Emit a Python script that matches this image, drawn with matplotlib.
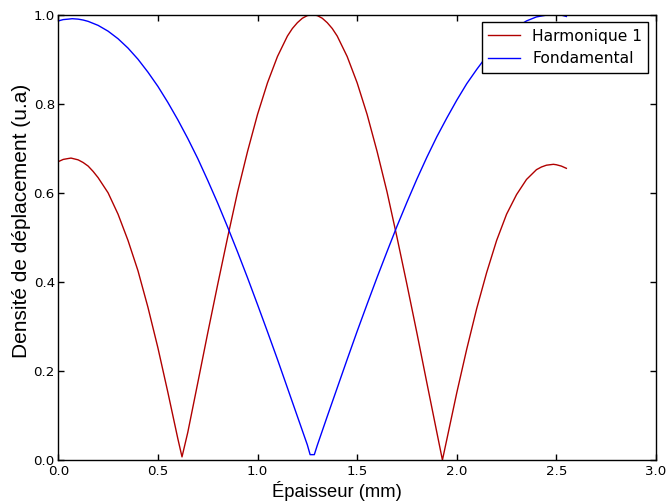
# -*- coding: utf-8 -*-
"""Densité de déplacement : fondamental et harmonique 1 en fonction de l'épaisseur."""

import matplotlib
matplotlib.use("Agg")
import matplotlib.pyplot as plt

# --- données ---
x_harm = [0.00, 0.025, 0.05, 0.064, 0.10, 0.125, 0.15, 0.175, 0.20, 0.25, 0.30,
          0.35, 0.40, 0.45, 0.50, 0.55, 0.60, 0.621, 0.65, 0.70, 0.75, 0.80,
          0.85, 0.90, 0.95, 1.00, 1.05, 1.10, 1.15, 1.175, 1.20, 1.225, 1.25,
          1.275, 1.30, 1.325, 1.35, 1.375, 1.40, 1.45, 1.50, 1.55, 1.60, 1.65,
          1.70, 1.75, 1.80, 1.85, 1.90, 1.928, 1.95, 2.00, 2.05, 2.10, 2.15,
          2.20, 2.25, 2.30, 2.35, 2.40, 2.425, 2.45, 2.485, 2.50, 2.525, 2.55]
y_harm = [0.670, 0.675, 0.677, 0.678, 0.674, 0.668, 0.660, 0.648, 0.634, 0.600,
          0.552, 0.493, 0.425, 0.343, 0.252, 0.152, 0.048, 0.007, 0.062, 0.173,
          0.285, 0.394, 0.500, 0.602, 0.693, 0.776, 0.847, 0.906, 0.952, 0.969,
          0.982, 0.992, 0.998, 1.000, 0.998, 0.992, 0.982, 0.969, 0.952, 0.906,
          0.847, 0.776, 0.693, 0.602, 0.500, 0.394, 0.285, 0.173, 0.062, 0.000,
          0.046, 0.151, 0.249, 0.340, 0.421, 0.493, 0.552, 0.596, 0.630, 0.652,
          0.658, 0.662, 0.664, 0.663, 0.660, 0.655]

x_fond = [0.00, 0.025, 0.05, 0.07, 0.10, 0.125, 0.15, 0.20, 0.25, 0.30, 0.35,
          0.40, 0.45, 0.50, 0.55, 0.60, 0.65, 0.70, 0.75, 0.80, 0.85, 0.90,
          0.95, 1.00, 1.05, 1.10, 1.15, 1.20, 1.25, 1.264, 1.285, 1.30, 1.35,
          1.40, 1.45, 1.50, 1.55, 1.60, 1.65, 1.70, 1.75, 1.80, 1.85, 1.90,
          1.95, 2.00, 2.05, 2.10, 2.15, 2.20, 2.25, 2.30, 2.35, 2.40, 2.425,
          2.45, 2.48, 2.50, 2.525, 2.55]
y_fond = [0.986, 0.989, 0.990, 0.991, 0.990, 0.988, 0.985, 0.976, 0.963, 0.946,
          0.925, 0.900, 0.871, 0.839, 0.803, 0.764, 0.722, 0.677, 0.628, 0.577,
          0.523, 0.467, 0.409, 0.349, 0.288, 0.226, 0.162, 0.098, 0.034, 0.012,
          0.012, 0.033, 0.098, 0.162, 0.226, 0.289, 0.350, 0.410, 0.468, 0.525,
          0.579, 0.631, 0.680, 0.726, 0.768, 0.808, 0.845, 0.877, 0.907, 0.932,
          0.954, 0.972, 0.986, 0.995, 0.997, 0.999, 1.000, 1.000, 0.999, 0.996]

x_ticks = [0.0, 0.5, 1.0, 1.5, 2.0, 2.5, 3.0]
y_ticks = [0.0, 0.2, 0.4, 0.6, 0.8, 1.0]

plt.rcParams["font.family"] = ["DejaVu Sans"]

fig = plt.figure(figsize=(6.69, 5.03), dpi=100)
ax = fig.add_axes([0.0871, 0.0855, 0.8935, 0.8853])

ax.plot(x_harm, y_harm, color="#b00000", lw=1.0, label="Harmonique 1")
ax.plot(x_fond, y_fond, color="#0000ff", lw=1.0, label="Fondamental")

ax.set_xlim(0, 3.0)
ax.set_ylim(0, 1.0)
ax.set_xticks(x_ticks)
ax.set_yticks(y_ticks)
ax.set_xticklabels([f"{t:.1f}" for t in x_ticks])
ax.set_yticklabels([f"{t:.1f}" for t in y_ticks])
ax.tick_params(direction="in", top=True, right=True, length=4.5, width=1,
               labelsize=9.6)
ax.tick_params(axis="x", pad=3.5)
ax.tick_params(axis="y", pad=2.5)
for s in ax.spines.values():
    s.set_linewidth(1.0)

# libellés d'axes placés comme sur la figure d'origine
fig.text(272 / 669, 1 - 497 / 503, "Épaisseur (mm)", fontsize=13.2,
         family="Liberation Sans", ha="left", va="baseline")
fig.text(22 / 669, 1 - 358 / 503, "Densité de déplacement (u.a)", fontsize=15,
         family="Liberation Sans", rotation=90, ha="center", va="bottom")

leg = ax.legend(loc="upper right", fontsize=11.2, fancybox=False,
                framealpha=1, edgecolor="black", handlelength=2.0,
                borderaxespad=0.5)
leg.get_frame().set_linewidth(1.0)

fig.savefig("out.png", dpi=100, facecolor="white")
